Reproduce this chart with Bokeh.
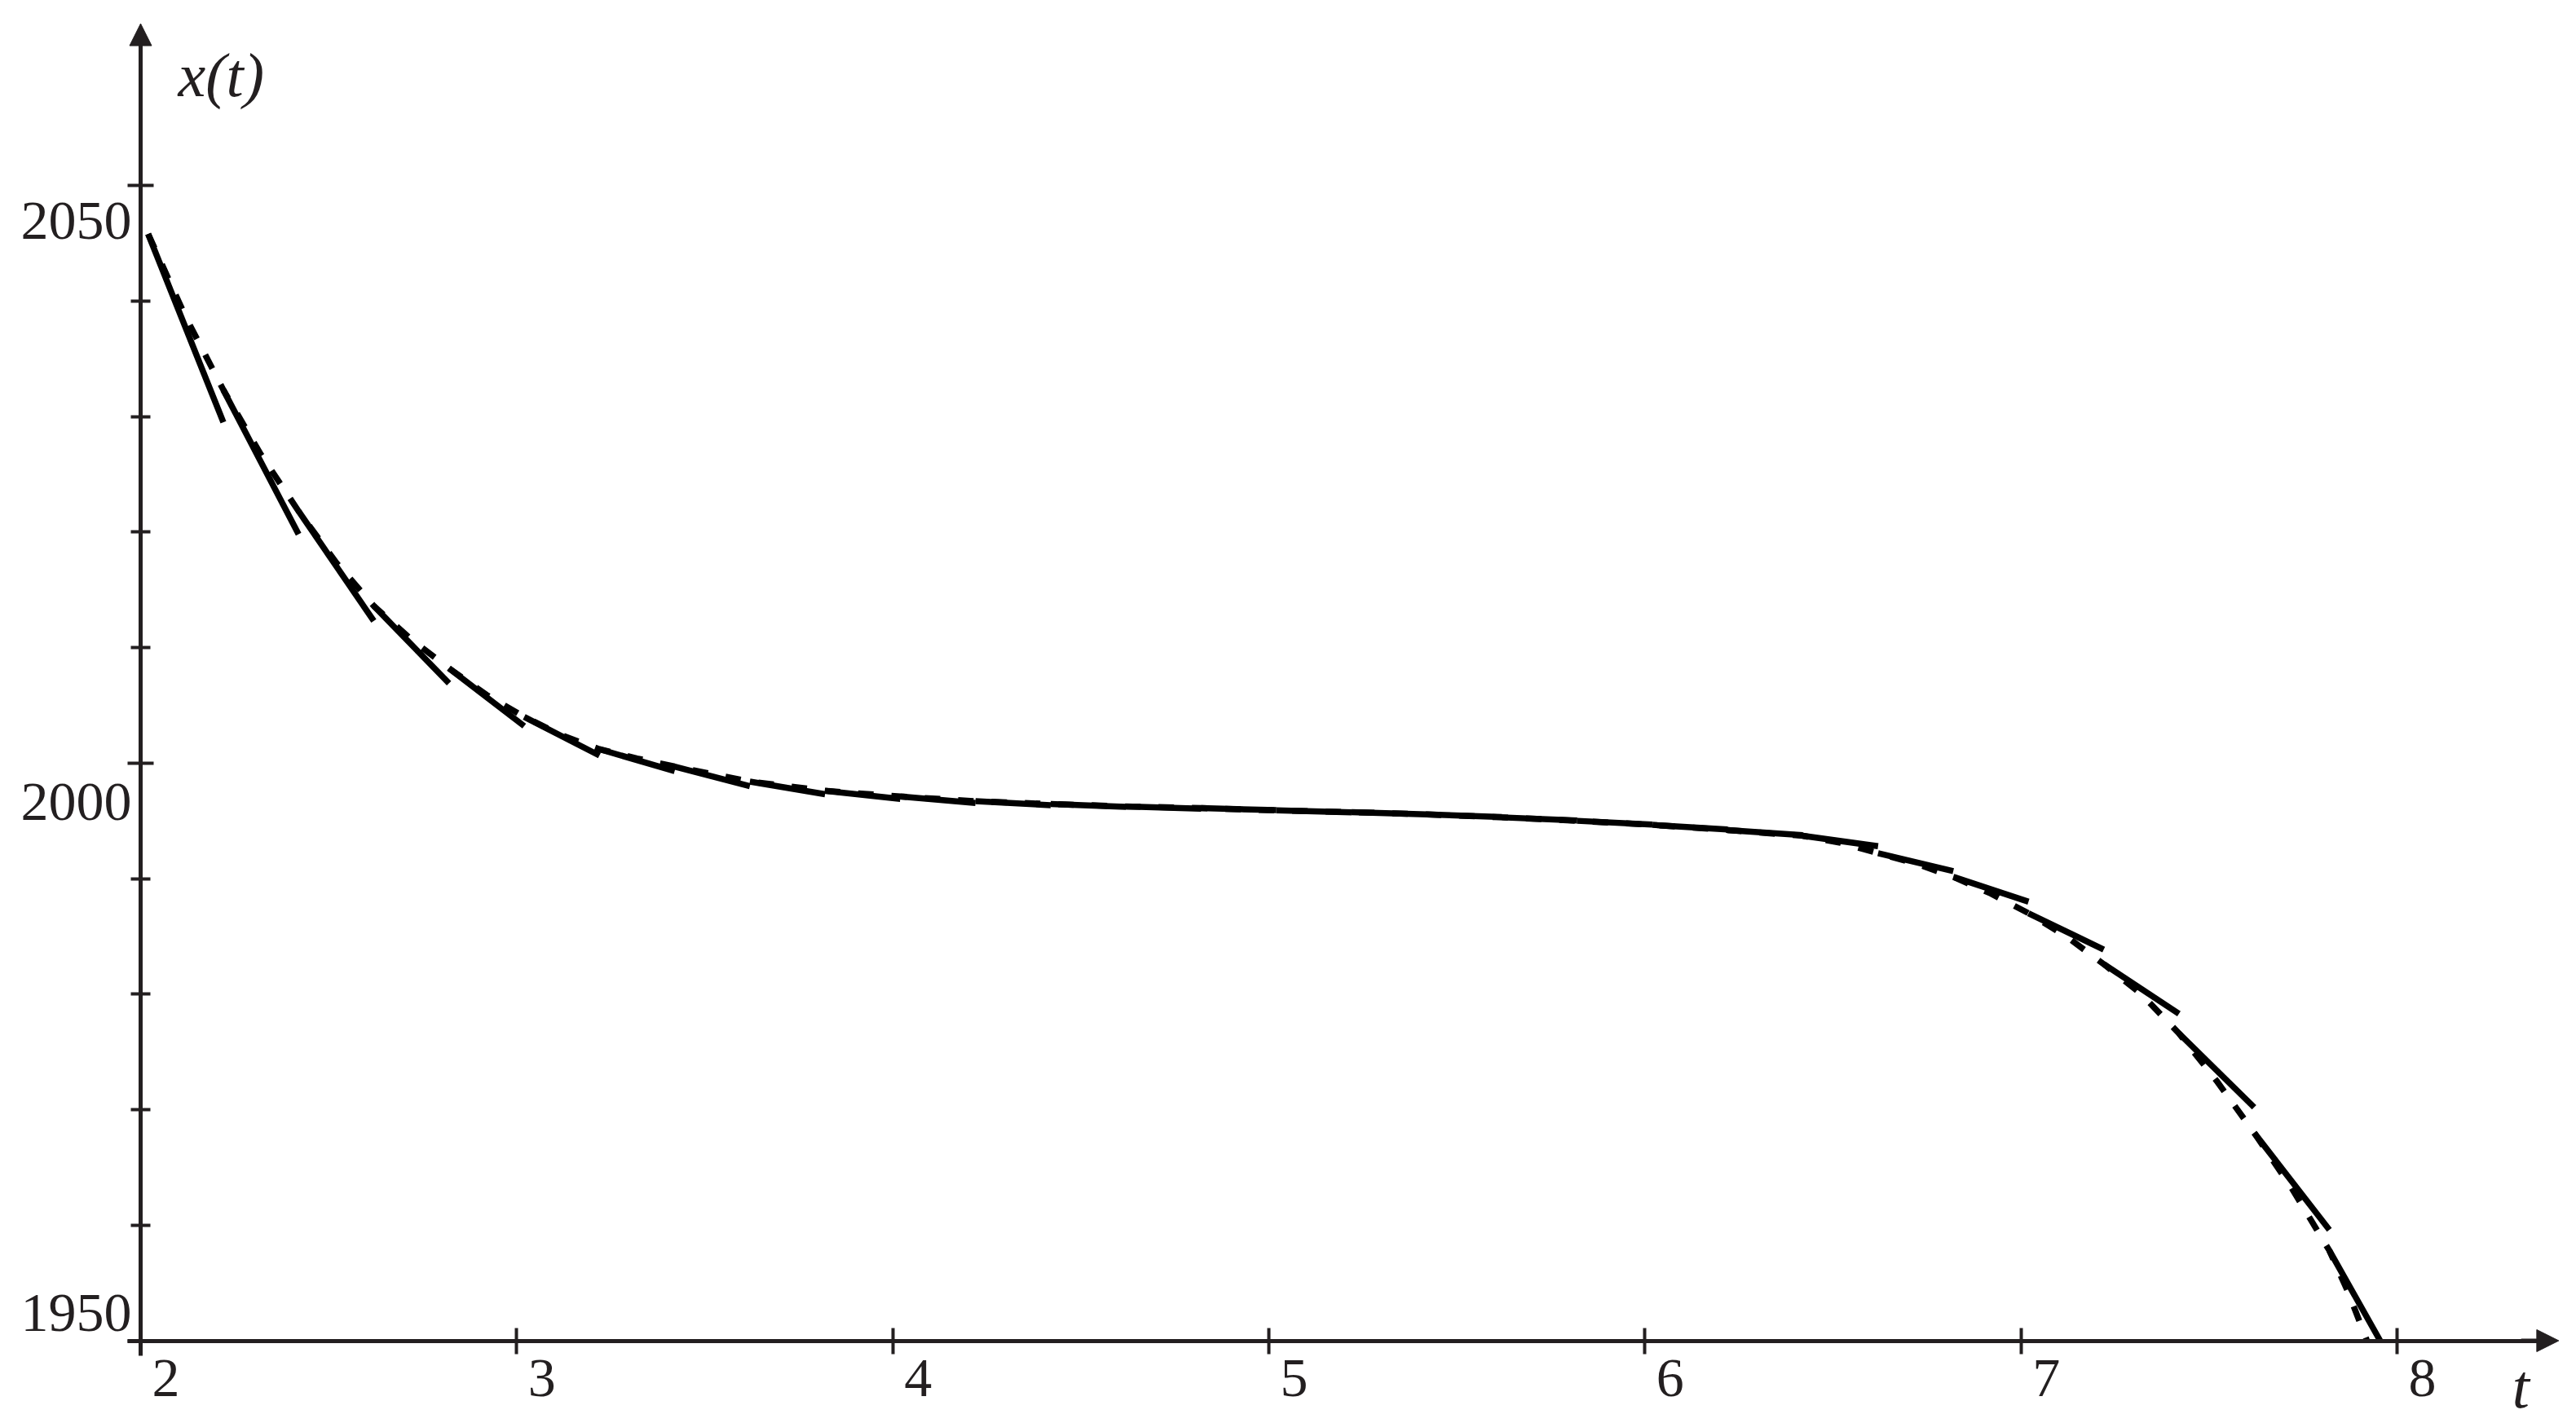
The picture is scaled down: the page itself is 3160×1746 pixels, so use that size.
from bokeh.plotting import figure
from bokeh.models import (Range1d, FixedTicker, ColumnDataSource, LabelSet, Label,
                          Arrow, NormalHead)
from bokeh.core.properties import value
from bokeh.embed import file_html
from bokeh.resources import INLINE

# ---------------- data ----------------
# exact solution x(t), drawn dashed
curve_t = [2.02, 2.12, 2.22, 2.32, 2.42, 2.52, 2.62, 2.72, 2.82, 2.92,
           3.02, 3.12, 3.22, 3.32, 3.42, 3.62, 3.82, 4.02, 4.22, 4.42,
           4.62, 4.82, 5.02, 5.22, 5.42, 5.62, 5.82, 6.02, 6.22, 6.42,
           6.52, 6.62, 6.72, 6.82, 6.92, 7.02, 7.12, 7.22, 7.32, 7.42,
           7.52, 7.62, 7.67, 7.72, 7.77, 7.82, 7.87, 7.92]
curve_x = [2045.8, 2038.6, 2032.3, 2026.7, 2021.8, 2017.35, 2013.6, 2010.7, 2008.2, 2005.9,
           2004.0, 2002.4, 2001.2, 2000.4, 1999.7, 1998.4, 1997.6, 1997.1, 1996.7, 1996.45,
           1996.25, 1996.1, 1995.9, 1995.75, 1995.55, 1995.3, 1995.0, 1994.65, 1994.2, 1993.7,
           1993.1, 1992.2, 1991.3, 1990.15, 1988.7, 1987.0, 1985.0, 1982.6, 1980.0, 1976.6,
           1972.5, 1968.0, 1965.6, 1963.2, 1960.5, 1957.8, 1954.2, 1950.0]

# step-wise straight pieces, solid
seg_t0 = [2.02, 2.22, 2.42, 2.62, 2.82, 3.02, 3.22, 3.42, 3.62, 3.82,
          4.02, 4.22, 4.42, 4.62, 4.82, 5.02, 5.22, 5.42, 5.62, 5.82,
          6.02, 6.22, 6.42, 6.62, 6.82, 7.02, 7.22, 7.42, 7.62, 7.82]
seg_x0 = [2045.8, 2032.3, 2021.8, 2013.6, 2008.2, 2004.0, 2001.2, 1999.7, 1998.4, 1997.6,
          1997.1, 1996.7, 1996.45, 1996.25, 1996.1, 1995.9, 1995.75, 1995.55, 1995.3, 1995.0,
          1994.65, 1994.2, 1993.7, 1992.2, 1990.15, 1987.0, 1982.6, 1976.6, 1968.0, 1957.8]
seg_t1 = [2.22, 2.42, 2.62, 2.82, 3.02, 3.22, 3.42, 3.62, 3.82, 4.02,
          4.22, 4.42, 4.62, 4.82, 5.02, 5.22, 5.42, 5.62, 5.82, 6.02,
          6.22, 6.42, 6.62, 6.82, 7.02, 7.22, 7.42, 7.62, 7.82, 7.955]
seg_x1 = [2029.5, 2019.8, 2012.3, 2006.9, 2003.2, 2000.65, 1999.3, 1998.0, 1997.3, 1996.9,
          1996.55, 1996.35, 1996.2, 1996.05, 1995.92, 1995.73, 1995.55, 1995.33, 1995.03, 1994.68,
          1994.25, 1993.75, 1992.8, 1990.65, 1988.0, 1983.85, 1978.3, 1970.2, 1959.6, 1950.0]

xtick_values = [2, 3, 4, 5, 6, 7, 8]
xtick_labels = ["2", "3", "4", "5", "6", "7", "8"]
ytick_values = [1950, 2000, 2050]
ytick_labels = ["1950", "2000", "2050"]
yminor_values = [1960, 1970, 1980, 1990, 2010, 2020, 2030, 2040]
x_title = "t"
y_title = "x(t)"

# ---------------- view / style ----------------
T_ORIGIN, X_ORIGIN = 2.0, 1950.0        # where the two axes cross
T_AXIS_END, X_AXIS_END = 8.43, 2064.0   # arrow tips
T_VIEW = (1.62716, 8.44224)             # whole canvas
X_VIEW = (1943.122, 2066.014)
AXIS = "#231f20"
INK = "#000000"
FONT = "Liberation Serif"
ytick_label_dy = [34, -48, -44]   # screen-px nudges of the y tick labels

p = figure(width=3144, height=1742,
           x_range=Range1d(*T_VIEW), y_range=Range1d(*X_VIEW),
           output_backend="svg", toolbar_location=None,
           min_border_left=0, min_border_right=0,
           min_border_top=0, min_border_bottom=0)
p.outline_line_color = None
p.grid.visible = False
p.background_fill_color = "white"
p.border_fill_color = "white"

# curves
p.line(curve_t, curve_x, line_color=INK, line_width=7.5, line_dash="19 22")
p.segment(x0=seg_t0, y0=seg_x0, x1=seg_t1, y1=seg_x1, line_color=INK, line_width=7.5)

# axes, crossing at (2, 1950)
xa = p.xaxis[0]
xa.fixed_location = X_ORIGIN
xa.ticker = FixedTicker(ticks=xtick_values)
xa.bounds = (1.965, 8.39)
xa.axis_line_color = AXIS
xa.axis_line_width = 5
xa.major_tick_line_color = AXIS
xa.major_tick_line_width = 4
xa.major_tick_in = 16
xa.major_tick_out = 16
xa.minor_tick_line_color = None
xa.major_label_overrides = {v: "" for v in xtick_values}

ya = p.yaxis[0]
ya.fixed_location = T_ORIGIN
ya.ticker = FixedTicker(ticks=ytick_values, minor_ticks=yminor_values)
ya.bounds = (1948.7, 2062.5)
ya.axis_line_color = AXIS
ya.axis_line_width = 5
ya.major_tick_line_color = AXIS
ya.major_tick_line_width = 4
ya.major_tick_in = 16
ya.major_tick_out = 16
ya.minor_tick_line_color = AXIS
ya.minor_tick_line_width = 4
ya.minor_tick_in = 12
ya.minor_tick_out = 12
ya.major_label_overrides = {v: "" for v in ytick_values}

# arrow heads
p.add_layout(Arrow(end=NormalHead(size=27, fill_color=AXIS, line_color=AXIS, line_width=1),
                   x_start=T_ORIGIN, y_start=X_AXIS_END - 4, x_end=T_ORIGIN, y_end=X_AXIS_END,
                   line_color=AXIS, line_width=5))
p.add_layout(Arrow(end=NormalHead(size=27, fill_color=AXIS, line_color=AXIS, line_width=1),
                   x_start=T_AXIS_END - 0.1, y_start=X_ORIGIN, x_end=T_AXIS_END, y_end=X_ORIGIN,
                   line_color=AXIS, line_width=5))

# tick labels
xsrc = ColumnDataSource(dict(x=xtick_values, y=[X_ORIGIN] * len(xtick_values), text=xtick_labels))
p.add_layout(LabelSet(x="x", y="y", text="text", source=xsrc,
                      x_offset=14, y_offset=-46,
                      text_align="left", text_baseline="middle",
                      text_font=value(FONT), text_font_size=value("68px"),
                      text_color=AXIS))
ysrc = ColumnDataSource(dict(x=[T_ORIGIN] * len(ytick_values), y=ytick_values,
                             text=ytick_labels, dy=ytick_label_dy))
p.add_layout(LabelSet(x="x", y="y", text="text", source=ysrc,
                      x_offset=-11, y_offset="dy",
                      text_align="right", text_baseline="middle",
                      text_font=value(FONT), text_font_size=value("68px"),
                      text_color=AXIS))

# axis titles
p.add_layout(Label(x=T_ORIGIN, y=X_AXIS_END, x_offset=46, y_offset=-63, text=y_title,
                   text_font=FONT, text_font_style="italic", text_font_size="76px",
                   text_align="left", text_baseline="middle", text_color=AXIS))
p.add_layout(Label(x=T_AXIS_END, y=X_ORIGIN, x_offset=-57, y_offset=-56, text=x_title,
                   text_font=FONT, text_font_style="italic", text_font_size="76px",
                   text_align="left", text_baseline="middle", text_color=AXIS))

open("out.html", "w").write(file_html(p, INLINE))
